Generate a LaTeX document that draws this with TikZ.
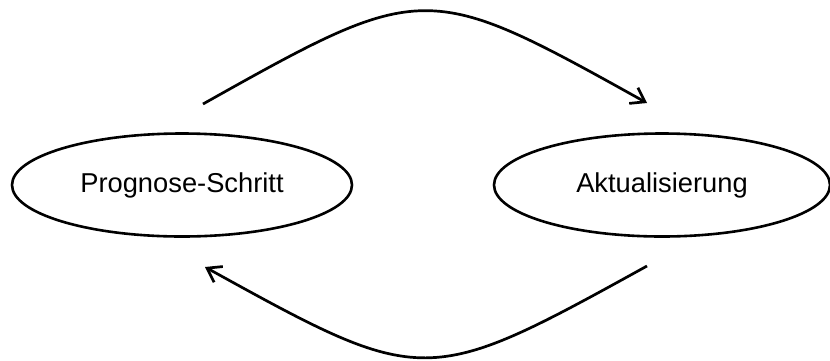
\documentclass[tikz,border=0pt]{standalone}
\usepackage{fontspec}
\setmainfont{Liberation Sans}
\usetikzlibrary{arrows.meta,shapes.geometric}

\begin{document}
\begin{tikzpicture}[
  x=1pt, y=-1pt,
  phase/.style={draw, ellipse, line width=2.6pt, inner sep=0pt, font=\fontsize{27.3}{32}\selectfont},
  cycle/.style={-{Straight Barb[length=13pt,width=18pt,line width=2.7pt]}, line width=2.7pt}
]
\useasboundingbox (0,0) rectangle (830,360);

\node[phase, minimum width=340, minimum height=103] (prognose) at (182,185) {Prognose-Schritt};
\node[phase, minimum width=336, minimum height=103] (update) at (662,185) {Aktualisierung};

% ends of the two loop arcs
\coordinate (topstart) at (203,104);
\coordinate (topend) at (647,103);
\coordinate (botstart) at (647,266);
\coordinate (botend) at (205,267);

\draw[cycle] (topstart) .. controls (424,-20) and (426,-20) .. (topend);
\draw[cycle] (botstart) .. controls (426,388) and (424,388) .. (botend);
\end{tikzpicture}
\end{document}
